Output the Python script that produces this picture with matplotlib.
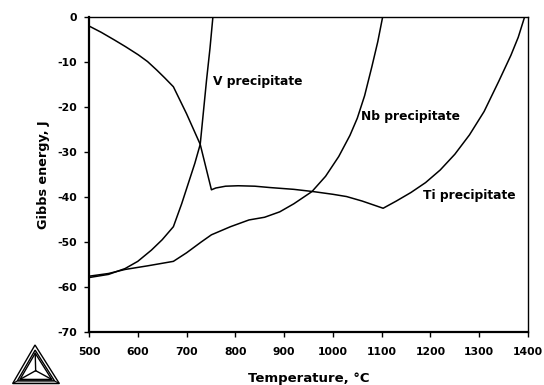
import matplotlib
matplotlib.use("Agg")
import matplotlib.pyplot as plt
from matplotlib.patches import Polygon
import numpy as np

plt.rcParams['font.family'] = ['DejaVu Sans']
plt.rcParams['font.weight'] = 'bold'
plt.rcParams['axes.unicode_minus'] = False

# Ti precipitate curve (starts near 0 at 500 C)
ti_T = [500, 525, 552, 575, 601, 620, 639, 655, 673, 700, 728, 751, 760, 780, 806, 840,
        871, 920, 960, 1000, 1028, 1060, 1103, 1130, 1160, 1190, 1220, 1250, 1280, 1310,
        1340, 1365, 1380, 1393]
ti_G = [-2.0, -3.4, -5.1, -6.6, -8.4, -9.9, -11.8, -13.5, -15.5, -21.5, -28.3, -38.4, -38.0,
        -37.6, -37.5, -37.6, -37.9, -38.3, -38.8, -39.4, -39.9, -40.9, -42.5, -40.9, -39.0,
        -36.8, -34.0, -30.5, -26.2, -21.0, -14.3, -8.5, -4.5, 0.0]

# Nb precipitate curve
nb_T = [500, 540, 574, 620, 673, 700, 730, 751, 790, 828, 860, 891, 920, 957, 985, 1012,
        1035, 1050, 1065, 1080, 1092, 1102]
nb_G = [-57.6, -57.0, -56.1, -55.3, -54.3, -52.4, -50.0, -48.4, -46.6, -45.1, -44.5, -43.3,
        -41.5, -38.8, -35.4, -31.0, -26.3, -22.5, -17.5, -11.0, -5.5, 0.0]

# V precipitate curve
v_T = [500, 540, 574, 600, 628, 650, 673, 690, 705, 717, 728, 741, 748, 754]
v_G = [-57.9, -57.2, -55.9, -54.3, -51.8, -49.5, -46.6, -41.5, -36.5, -32.5, -28.3, -14.0,
       -7.0, 0.0]

labels = ["V precipitate", "Nb precipitate", "Ti precipitate"]
label_T = [755, 1058, 1185]
label_G = [-15.1, -23.0, -40.5]

x_ticks = [500, 600, 700, 800, 900, 1000, 1100, 1200, 1300, 1400]
y_ticks = [0, -10, -20, -30, -40, -50, -60, -70]

fig = plt.figure(figsize=(5.44, 3.85), dpi=100)
ax = fig.add_axes([89/544, 1-332/385, (528-89)/544, (332-17)/385])

for T, G in [(ti_T, ti_G), (nb_T, nb_G), (v_T, v_G)]:
    ax.plot(T, G, color='black', lw=1.1, solid_joinstyle='round')

for s, t, g in zip(labels, label_T, label_G):
    ax.text(t, g, s, fontsize=8.8, fontweight='bold', ha='left', va='baseline')

ax.set_xlim(500, 1400)
ax.set_ylim(-70, 0)
ax.set_xticks(x_ticks)
ax.set_yticks(y_ticks)
ax.tick_params(axis='x', direction='out', length=3.5, width=1, labelsize=7.8, pad=7.5)
ax.tick_params(axis='y', direction='out', length=3.5, width=1, labelsize=7.8, pad=5)
for lab in ax.get_xticklabels() + ax.get_yticklabels():
    lab.set_fontweight('bold')
ax.spines['left'].set_linewidth(1.6)
ax.spines['bottom'].set_linewidth(1.6)
ax.spines['top'].set_linewidth(1.0)
ax.spines['right'].set_linewidth(1.0)
ax.set_xlabel("Temperature, °C", fontsize=9.5, fontweight='bold', labelpad=10.5)
ax.set_ylabel("Gibbs energy, J", fontsize=9.2, fontweight='bold', labelpad=5.5)

# Thermo-Calc style logo (decoration)
lax = fig.add_axes([0, 0, 70/544, 45/385])
lax.set_xlim(0, 70)
lax.set_ylim(0, 45)
lax.axis('off')
outer = np.array([[35, 40], [12.7, 1.5], [59.3, 1.5]])
c = outer.mean(axis=0)
for sc in [1.0, 0.8, 0.68]:
    pts = c + (outer - c) * sc
    lax.add_patch(Polygon(pts, closed=True, fill=False, ec='black', lw=1.0))
inner = c + (outer - c) * 0.68
for p in inner:
    lax.plot([c[0], p[0]], [c[1], p[1]], color='black', lw=1.0)
band = np.array([outer[1], outer[2], c + (outer[2] - c) * 0.8, c + (outer[1] - c) * 0.8])
lax.add_patch(Polygon(band, closed=True, fc='#b0b0b0', ec='black', lw=0.8))

fig.savefig("out.png", dpi=100)
